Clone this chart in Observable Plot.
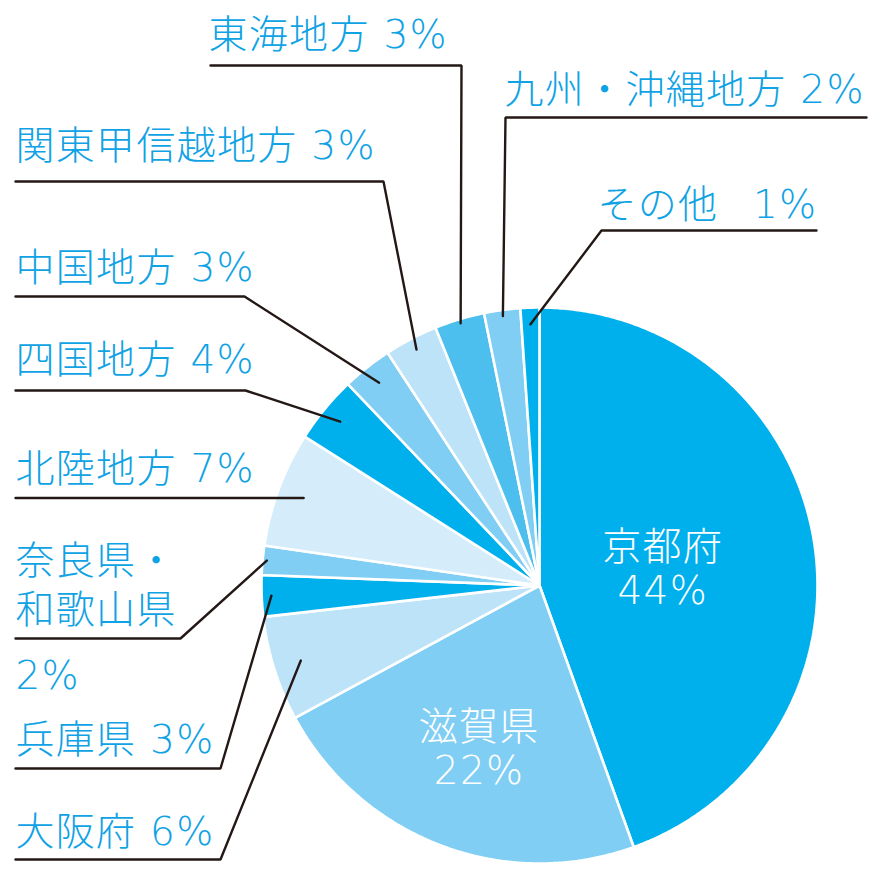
<!DOCTYPE html>
<html>
<head>
<meta charset="utf-8">
<script src="https://cdn.jsdelivr.net/npm/d3@7"></script>
<script src="https://cdn.jsdelivr.net/npm/@observablehq/plot@0.6"></script>
<style>
  html, body { margin: 0; padding: 0; background: #ffffff; }
  #chart svg { display: block; }
  #chart text { letter-spacing: 1.3px; }
</style>
</head>
<body>
<div id="chart"></div>
<script>
// ---- data ----
const regions = ["京都府", "滋賀県", "大阪府", "兵庫県", "奈良県・和歌山県", "北陸地方", "四国地方", "中国地方", "関東甲信越地方", "東海地方", "九州・沖縄地方", "その他"];
const shares = [44.5, 22.6, 6.1, 2.4, 1.7, 6.7, 3.9, 2.9, 3.1, 2.9, 2.1, 1.1];
const shareLabels = ["44%", "22%", "6%", "3%", "2%", "7%", "4%", "3%", "3%", "3%", "2%", "1%"];
const sliceColors = ["#00b0ec", "#80cef4", "#bde3f8", "#00b0ec", "#80cef4", "#d5edfa", "#00b0ec", "#80cef4", "#bde3f8", "#4dbfee", "#80cef4", "#00b0ec"];

// ---- layout ----
const W = 880, H = 870;
const CX = 539, CY = 585, R = 278;
const FONT = "'DejaVu Sans', 'Noto Sans CJK JP', sans-serif";
const FS = 39;
const LABEL_BLUE = "#0fa2e4";
const LINE_DARK = "#231815";

// inner labels: region index -> radius fraction along mid angle
const inner = [
  {i: 0, rf: 0.45},
  {i: 1, rf: 0.61}
];

// outside labels: text rows (baseline), leader line (far end x, elbow x, line y), end radius fraction
const outside = [
  {i: 2,  rows: [{t: "大阪府 6%", x: 15, y: 844}], far: 15, elbow: 220, ly: 859, rf: 0.90},
  {i: 3,  rows: [{t: "兵庫県 3%", x: 15, y: 752}], far: 15, elbow: 220, ly: 768, rf: 0.965},
  {i: 4,  rows: [{t: "奈良県・", x: 15, y: 573}, {t: "和歌山県", x: 15, y: 622}, {t: "2%", x: 15, y: 688}], far: 15, elbow: 180, ly: 638, rf: 0.985},
  {i: 5,  rows: [{t: "北陸地方 7%", x: 15, y: 481}], far: 15, elbow: null, ly: null, rf: 0.905},
  {i: 6,  rows: [{t: "四国地方 4%", x: 15, y: 372}], far: 15, elbow: 245, ly: 390, rf: 0.928},
  {i: 7,  rows: [{t: "中国地方 3%", x: 15, y: 280}], far: 15, elbow: 244, ly: 296, rf: 0.93},
  {i: 8,  rows: [{t: "関東甲信越地方 3%", x: 15, y: 158}], far: 15, elbow: 383, ly: 181, rf: 0.957},
  {i: 9,  rows: [{t: "東海地方 3%", x: 208, y: 47}], far: 210, elbow: 461, ly: 65, rf: 0.985},
  {i: 10, rows: [{t: "九州・沖縄地方 2%", x: 504, y: 102}], far: 866, elbow: 505, ly: 117, rf: 0.978},
  {i: 11, rows: [{t: "その他\u2002 1%", x: 597, y: 217}], far: 816, elbow: 601, ly: 230, rf: 0.94}
];

// ---- geometry from the data ----
const arcs = d3.pie().sort(null).value(d => d)(shares);
const px = (a, r) => CX + r * Math.sin(a);
const py = (a, r) => CY - r * Math.cos(a);

const slicePts = [];
arcs.forEach((a, k) => {
  slicePts.push({k, x: CX, y: CY, c: sliceColors[k]});
  const span = a.endAngle - a.startAngle;
  const n = Math.max(2, Math.ceil(span / (Math.PI / 360)));
  for (let j = 0; j <= n; j++) {
    const t = a.startAngle + span * j / n;
    slicePts.push({k, x: px(t, R), y: py(t, R), c: sliceColors[k]});
  }
});

const leaderPts = [];
const textRows = [];
outside.forEach(o => {
  const a = arcs[o.i];
  const mid = (a.startAngle + a.endAngle) / 2;
  const ex = px(mid, R * o.rf), ey = py(mid, R * o.rf);
  const ly = o.ly == null ? ey : o.ly;
  leaderPts.push({g: o.i, x: o.far, y: ly});
  if (o.elbow != null) leaderPts.push({g: o.i, x: o.elbow, y: ly});
  leaderPts.push({g: o.i, x: ex, y: ey});
  o.rows.forEach(r => textRows.push(r));
});

const innerRows = [];
inner.forEach(o => {
  const a = arcs[o.i];
  const mid = (a.startAngle + a.endAngle) / 2;
  const x = px(mid, R * o.rf), y = py(mid, R * o.rf);
  innerRows.push({x, y: y - 4, t: regions[o.i]});
  innerRows.push({x, y: y + 40, t: shareLabels[o.i]});
});

const chart = Plot.plot({
  width: W,
  height: H,
  margin: 0,
  x: {domain: [0, W], range: [0, W], axis: null},
  y: {domain: [0, H], range: [0, H], axis: null},
  style: {background: "#ffffff", fontFamily: FONT},
  marks: [
    Plot.line(slicePts, {x: "x", y: "y", z: "k", curve: "linear-closed", fill: "c", stroke: "#ffffff", strokeWidth: 2.6, strokeLinejoin: "miter"}),
    Plot.line(leaderPts, {x: "x", y: "y", z: "g", stroke: LINE_DARK, strokeWidth: 2.4, strokeLinejoin: "miter"}),
    Plot.text(textRows, {x: "x", y: "y", text: "t", textAnchor: "start", lineAnchor: "bottom", fontSize: FS, fontWeight: 200, fill: LABEL_BLUE, fontFamily: FONT}),
    Plot.text(innerRows, {x: "x", y: "y", text: "t", textAnchor: "middle", lineAnchor: "bottom", fontSize: FS, fontWeight: 200, fill: "#ffffff", fontFamily: FONT})
  ]
});
document.getElementById("chart").appendChild(chart);
</script>
</body>
</html>
